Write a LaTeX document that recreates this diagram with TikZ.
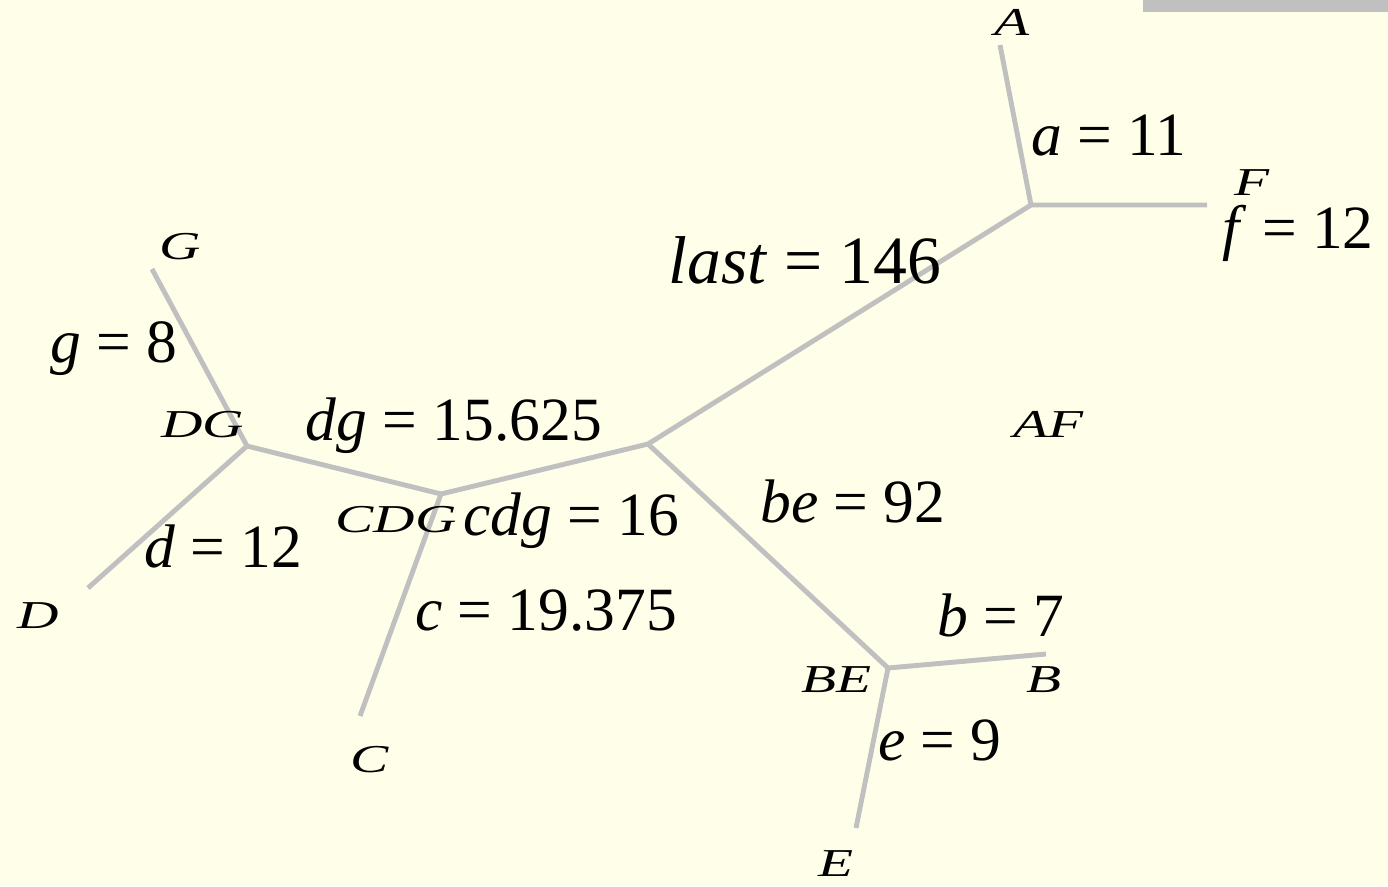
\documentclass[tikz,border=0pt]{standalone}
\usepackage{fontspec}
\setmainfont{Liberation Serif}
\usetikzlibrary{positioning}
\definecolor{treebg}{HTML}{FFFFE9}
\definecolor{treegray}{HTML}{C0C0C0}
\tikzset{
  branch/.style={line width=2.8pt, treegray, line join=round},
  wlabel/.style={anchor=base, inner sep=0pt, font=\fontsize{35}{40}\selectfont},
  taxon/.style={anchor=base, inner sep=0pt, font=\fontsize{22.5}{26}\selectfont\itshape},
}
\newcommand{\wide}[1]{\scalebox{1.45}[1]{#1}}

\begin{document}
\begin{tikzpicture}[x=0.02cm, y=-0.02cm]
    \useasboundingbox (0,0) rectangle (1388,886);
    \fill[treebg] (0,0) rectangle (1388,886);
    \fill[treegray] (1143,0) rectangle (1388,12);
    % junctions and tips
    \coordinate (a) at (1000,45);
    \coordinate (af) at (1031,205);
    \coordinate (f) at (1207,205);
    \coordinate (root) at (648,444);
    \coordinate (cdg) at (441,494);
    \coordinate (dg) at (247,446);
    \coordinate (g) at (152,269);
    \coordinate (d) at (88,588);
    \coordinate (c) at (360,716);
    \coordinate (be) at (888,668);
    \coordinate (b) at (1046,654);
    \coordinate (e) at (856,828);
    \draw[branch] (a) -- (af) -- (f);
    \draw[branch] (af) -- (root) -- (cdg) -- (dg) -- (g);
    \draw[branch] (dg) -- (d);
    \draw[branch] (cdg) -- (c);
    \draw[branch] (root) -- (be) -- (b);
    \draw[branch] (be) -- (e);
    % taxon names
    \node[taxon] (nA) at (1012,35) {\wide{A}};
    \node[taxon] (nF) at (1252,195) {\wide{F}};
    \node[taxon] (nG) at (180,259) {\wide{G}};
    \node[taxon] (nDG) at (203,437) {\wide{DG}};
    \node[taxon] (nCDG) at (396,532) {\wide{CDG}};
    \node[taxon] (nD) at (38,628) {\wide{D}};
    \node[taxon] (nC) at (370,772) {\wide{C}};
    \node[taxon] (nAF) at (1048,437) {\wide{AF}};
    \node[taxon] (nBE) at (836,692) {\wide{BE}};
    \node[taxon] (nB) at (1044,692) {\wide{B}};
    \node[taxon] (nE) at (836,876) {\wide{E}};
    % branch lengths
    \node[wlabel] (la) at (1109,155) {\textit{a} = 11};
    \node[wlabel] (lf) at (1298,248) {\textit{f} = 12};
    \node[wlabel, font=\fontsize{38.5}{44}\selectfont] (llast) at (805,283) {\textit{last} = 146};
    \node[wlabel] (lg) at (114,362) {\textit{g} = 8};
    \node[wlabel] (ldg) at (454,440) {\textit{dg} = 15.625};
    \node[wlabel] (lcdg) at (571,535) {\textit{cdg} = 16};
    \node[wlabel] (ld) at (223,567) {\textit{d} = 12};
    \node[wlabel] (lc) at (546,630) {\textit{c} = 19.375};
    \node[wlabel] (lbe) at (853,522) {\textit{be} = 92};
    \node[wlabel] (lb) at (1001,636) {\textit{b} = 7};
    \node[wlabel] (le) at (940,760) {\textit{e} = 9};
\end{tikzpicture}
\end{document}
